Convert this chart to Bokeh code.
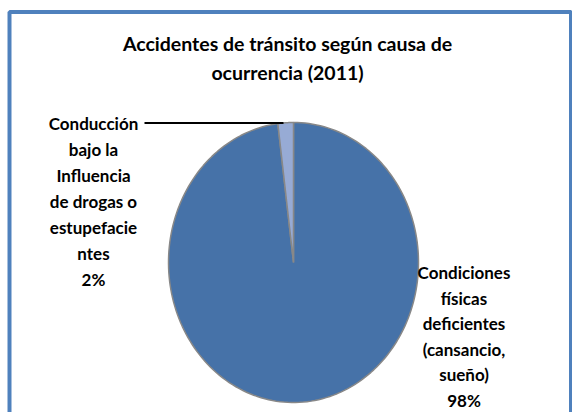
import numpy as np
from bokeh.plotting import figure
from bokeh.models import Range1d
from bokeh.embed import file_html
from bokeh.resources import INLINE
from bokeh.core.properties import value

# ---- data ----
title_lines = ["Accidentes de tránsito según causa de", "ocurrencia (2011)"]
categories = ["Condiciones físicas deficientes (cansancio, sueño)",
              "Conducción bajo la Influencia de drogas o estupefacientes"]
values = [98, 2]
label_lines = [["Condiciones", "físicas", "deficientes", "(cansancio,", "sueño)"],
               ["Conducción", "bajo la", "Influencia", "de drogas o", "estupefacie", "ntes"]]
colors = ["#4672A8", "#97ABD5"]

# ---- layout (reference-pixel coordinate system) ----
W, H = 572, 412
FONT = "Lato"
cx, cy, rx, ry = 293, 262, 125, 140

p = figure(width=W, height=H, output_backend="svg", toolbar_location=None,
           x_range=Range1d(0, W), y_range=Range1d(H, 0),
           min_border=0, outline_line_color=None)
p.axis.visible = False
p.grid.visible = False
p.background_fill_color = "white"
p.border_fill_color = "white"

# frame border (blue)
p.line(x=[9, 9, 570.5, 570.5], y=[430, 11.5, 11.5, 430], line_color="#4F81BD", line_width=4)

# title
p.text(x=[287, 287], y=[43, 72], text=title_lines, text_align="center",
       text_baseline="alphabetic", text_font=value(FONT), text_font_style="bold",
       text_font_size="19.5px", text_color="black")

# pie slices (clockwise from top)
total = float(sum(values))
fr = np.concatenate([[0.0], np.cumsum(values) / total])
xs, ys = [], []
for i in range(len(values)):
    t = np.linspace(fr[i] * 2 * np.pi, fr[i + 1] * 2 * np.pi, 200)
    xs.append(np.concatenate([[cx], cx + rx * np.sin(t)]).tolist())
    ys.append(np.concatenate([[cy], cy - ry * np.cos(t)]).tolist())
p.patches(xs=xs, ys=ys, fill_color=colors, line_color="#888888", line_width=1.5)

# leader line for small slice
p.line(x=[144, 283], y=[122.5, 122.5], line_color="black", line_width=2)

# labels
def draw_label(lines, pct, x, y0, dy):
    lines = lines + [f"{pct}%"]
    p.text(x=[x] * len(lines), y=[y0 + dy * k for k in range(len(lines))], text=lines,
           text_align="center", text_baseline="alphabetic", text_font=value(FONT),
           text_font_style="bold", text_font_size="17px", text_color="black")

draw_label(label_lines[0], values[0], 463.5, 272, 25.6)
draw_label(label_lines[1], values[1], 93, 123, 26)

open("out.html", "w").write(file_html(p, INLINE))
